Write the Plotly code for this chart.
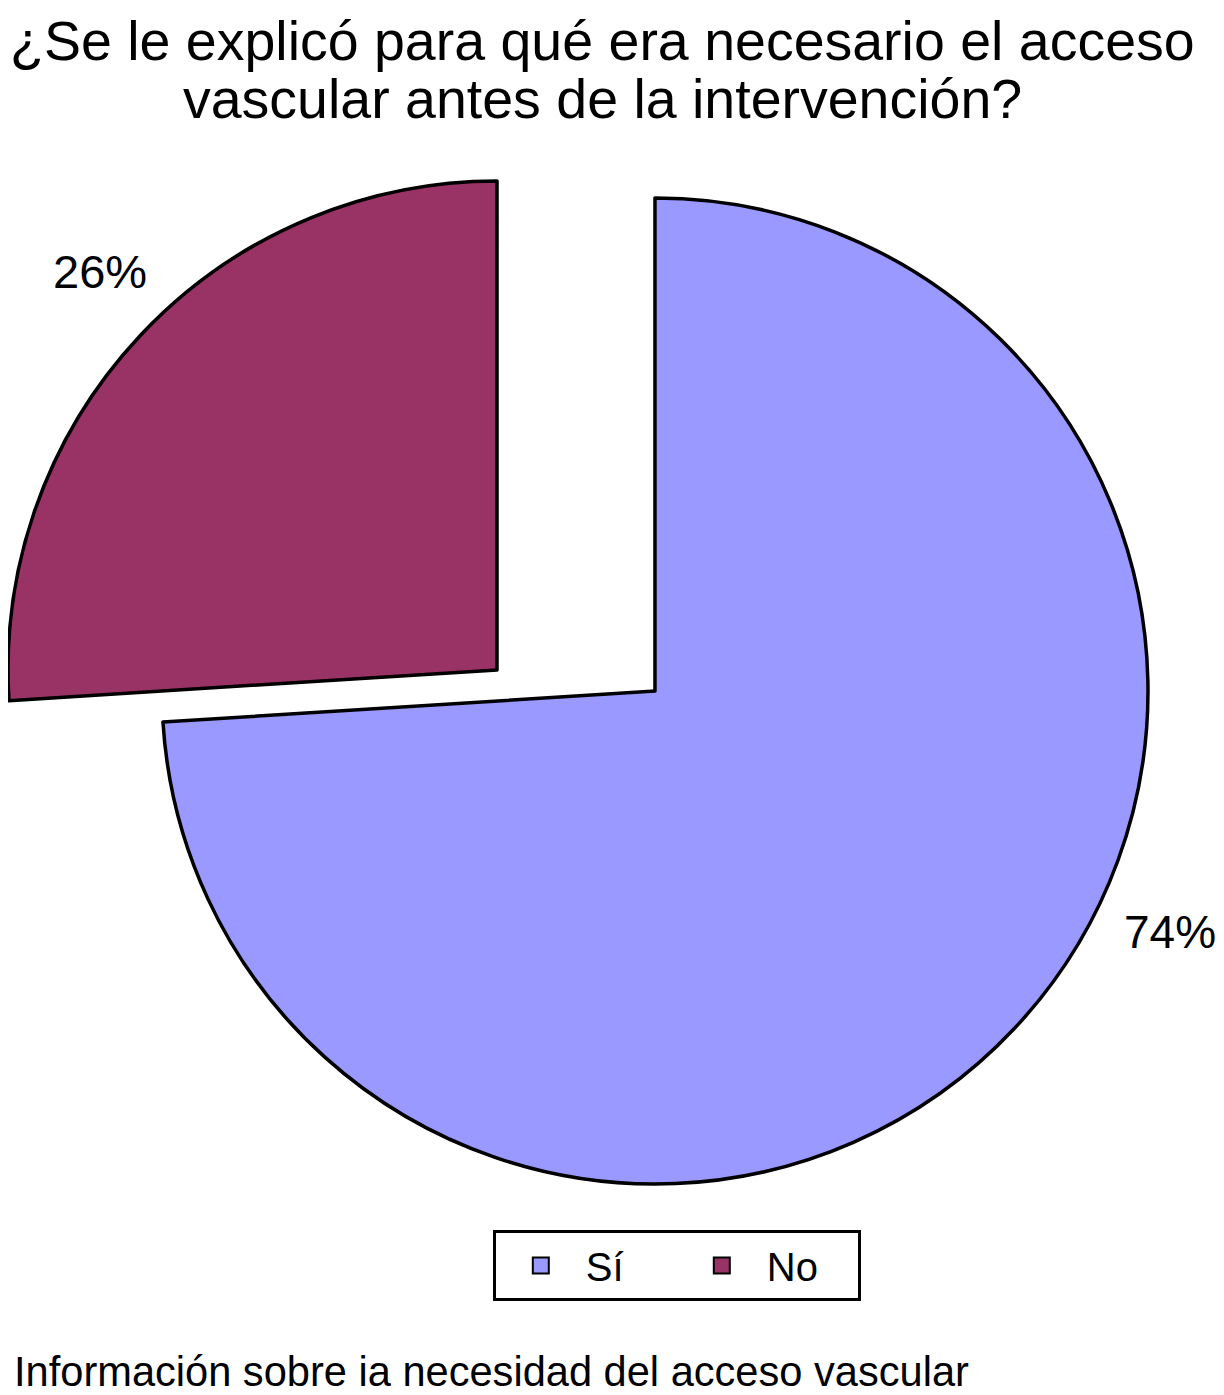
import plotly.graph_objects as go

# -- data -- #
labels = ['Sí', 'No']
values = [74, 26]
colors = ['#9999FF', '#993366']

title_lines = ['¿Se le explicó para qué era necesario el acceso',
               'vascular antes de la intervención?']
caption_text = 'Información sobre ia necesidad del acceso vascular'

clear = 'rgba(0,0,0,0)'
font_family = 'Liberation Sans, Arial, Helvetica, sans-serif'

fig = go.Figure()

# -- Sí slice (centered pie), No slice left transparent -- #
fig.add_trace(go.Pie(
    labels=labels, values=values, sort=False, direction='clockwise', rotation=0,
    marker=dict(colors=[colors[0], clear], line=dict(color=['black', clear], width=[3.5, 0])),
    textinfo='none', hoverinfo='label+percent', showlegend=False,
    domain=dict(x=[0.1266, 0.9375], y=[0.1521, 0.8630]),
))

# -- No slice (exploded, drawn on its own shifted domain) -- #
fig.add_trace(go.Pie(
    labels=labels, values=values, sort=False, direction='clockwise', rotation=0,
    marker=dict(colors=[clear, colors[1]], line=dict(color=[clear, 'black'], width=[0, 3.5])),
    textinfo='none', hoverinfo='label+percent', showlegend=False,
    domain=dict(x=[0.0, 0.8043], y=[0.1702, 0.8753]),
))

# -- legend swatches -- #
for lab, col in zip(labels, colors):
    fig.add_trace(go.Scatter(
        x=[None], y=[None], mode='markers', name=lab,
        marker=dict(symbol='square', size=16, color=col, line=dict(color='black', width=2)),
    ))

# -- percent labels -- #
total = sum(values)
pct = {lab: f'{round(100 * v / total)}%' for lab, v in zip(labels, values)}
fig.add_annotation(text=pct['No'], x=0.0757, y=0.8097, xref='paper', yref='paper',
                   xanchor='center', yanchor='middle', showarrow=False,
                   font=dict(size=47, color='black'))
fig.add_annotation(text=pct['Sí'], x=0.9556, y=0.3338, xref='paper', yref='paper',
                   xanchor='center', yanchor='middle', showarrow=False,
                   font=dict(size=46, color='black'))

# -- title (one annotation per line) and caption -- #
fig.add_annotation(text=title_lines[0], x=0.4885, y=1.0, xref='paper', yref='paper',
                   xanchor='center', yanchor='top', showarrow=False,
                   font=dict(size=55.5, color='black'))
fig.add_annotation(text=title_lines[1], x=0.4885, y=0.9345, xref='paper', yref='paper',
                   xanchor='center', yanchor='middle', showarrow=False,
                   font=dict(size=55.5, color='black'))
fig.add_annotation(text=caption_text, x=0.0033, y=0.0166, xref='paper', yref='paper',
                   xanchor='left', yanchor='middle', showarrow=False,
                   font=dict(size=41.6, color='black'))

fig.update_layout(
    width=1216, height=1387,
    margin=dict(l=0, r=0, t=0, b=0),
    paper_bgcolor='white', plot_bgcolor='white',
    font=dict(family=font_family, color='black'),
    xaxis=dict(visible=False), yaxis=dict(visible=False),
    legend=dict(orientation='h', x=0.550, xanchor='center', y=0.119, yanchor='top',
                bordercolor='black', borderwidth=3, bgcolor='white',
                font=dict(size=40, color='black'), entrywidth=86, itemwidth=80),
)

fig.write_html('out.html')
